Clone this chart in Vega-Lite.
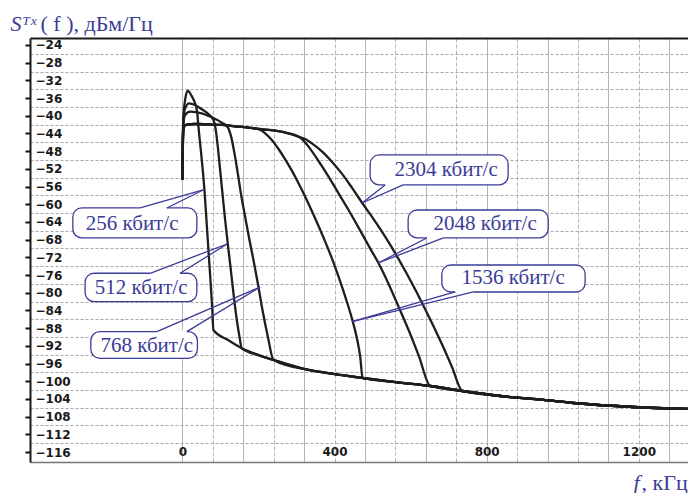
{
  "$schema": "https://vega.github.io/schema/vega-lite/v6.json",
  "width": 658,
  "height": 424,
  "autosize": {"type": "none"},
  "padding": {"left": 30, "top": 38, "right": 0, "bottom": 31},
  "background": "white",
  "config": {"view": {"stroke": null}},
  "datasets": {
    "curves": [
      {"s":"256","f":0,"p":-54.51},{"s":"256","f":0.9,"p":-46.98},{"s":"256","f":2.6,"p":-40.2},{"s":"256","f":7,"p":-36.43},{"s":"256","f":14,"p":-34.32},{"s":"256","f":22.8,"p":-35.3},{"s":"256","f":31.6,"p":-36.81},{"s":"256","f":38.6,"p":-39.07},{"s":"256","f":42.1,"p":-42.46},{"s":"256","f":47.4,"p":-46.98},{"s":"256","f":52.6,"p":-51.5},{"s":"256","f":57.9,"p":-56.77},{"s":"256","f":63.2,"p":-63.56},{"s":"256","f":68.4,"p":-70.34},{"s":"256","f":73.7,"p":-77.12},{"s":"256","f":78.1,"p":-83.15},{"s":"256","f":81.6,"p":-88.42},
      {"s":"256","f":120,"p":-90.7},{"s":"256","f":156.1,"p":-92.56},{"s":"256","f":200,"p":-94.1},{"s":"256","f":239.5,"p":-95.2},{"s":"256","f":331.6,"p":-97.46},{"s":"256","f":400,"p":-98.4},{"s":"256","f":473.7,"p":-99.27},{"s":"256","f":570,"p":-100.3},{"s":"256","f":651.8,"p":-101.08},{"s":"256","f":736,"p":-102.21},{"s":"256","f":836,"p":-103.34},{"s":"256","f":949,"p":-104.24},{"s":"256","f":1028,"p":-104.92},{"s":"256","f":1186,"p":-105.83},{"s":"256","f":1329,"p":-106.27},

      {"s":"512","f":0,"p":-54.51},{"s":"512","f":0.9,"p":-46.98},{"s":"512","f":2.6,"p":-40.95},{"s":"512","f":7,"p":-38.31},{"s":"512","f":17.5,"p":-37.18},{"s":"512","f":33.3,"p":-37.56},{"s":"512","f":50.9,"p":-38.54},{"s":"512","f":68.4,"p":-39.6},{"s":"512","f":81.6,"p":-40.95},{"s":"512","f":87.7,"p":-43.21},{"s":"512","f":93,"p":-46.98},{"s":"512","f":98.2,"p":-51.5},{"s":"512","f":105.3,"p":-57.53},{"s":"512","f":112.3,"p":-63.56},{"s":"512","f":119.3,"p":-68.98},{"s":"512","f":126.3,"p":-74.1},{"s":"512","f":134.2,"p":-80.13},{"s":"512","f":143,"p":-86.16},{"s":"512","f":150,"p":-89.93},{"s":"512","f":156.1,"p":-92.56},
      {"s":"512","f":200,"p":-94.1},{"s":"512","f":239.5,"p":-95.2},{"s":"512","f":331.6,"p":-97.46},{"s":"512","f":400,"p":-98.4},{"s":"512","f":473.7,"p":-99.27},{"s":"512","f":570,"p":-100.3},{"s":"512","f":651.8,"p":-101.08},{"s":"512","f":736,"p":-102.21},{"s":"512","f":836,"p":-103.34},{"s":"512","f":949,"p":-104.24},{"s":"512","f":1028,"p":-104.92},{"s":"512","f":1186,"p":-105.83},{"s":"512","f":1329,"p":-106.27},

      {"s":"768","f":0,"p":-54.51},{"s":"768","f":0.9,"p":-46.98},{"s":"768","f":2.6,"p":-41.71},{"s":"768","f":7,"p":-39.82},{"s":"768","f":20.2,"p":-39.07},{"s":"768","f":50.9,"p":-39.44},{"s":"768","f":77.2,"p":-40.35},{"s":"768","f":103.5,"p":-41.55},{"s":"768","f":119.3,"p":-42.61},{"s":"768","f":128.1,"p":-44.72},{"s":"768","f":136.8,"p":-48.49},{"s":"768","f":145.6,"p":-53.01},{"s":"768","f":154.4,"p":-57.9},{"s":"768","f":164.9,"p":-62.8},{"s":"768","f":175.4,"p":-67.7},{"s":"768","f":186.8,"p":-72.6},{"s":"768","f":198.2,"p":-77.87},{"s":"768","f":210.5,"p":-83.9},{"s":"768","f":224.6,"p":-89.93},{"s":"768","f":239.5,"p":-95.2},
      {"s":"768","f":331.6,"p":-97.46},{"s":"768","f":400,"p":-98.4},{"s":"768","f":473.7,"p":-99.27},{"s":"768","f":570,"p":-100.3},{"s":"768","f":651.8,"p":-101.08},{"s":"768","f":736,"p":-102.21},{"s":"768","f":836,"p":-103.34},{"s":"768","f":949,"p":-104.24},{"s":"768","f":1028,"p":-104.92},{"s":"768","f":1186,"p":-105.83},{"s":"768","f":1329,"p":-106.27},

      {"s":"1536","f":0,"p":-54.51},{"s":"1536","f":0.9,"p":-48.49},{"s":"1536","f":1.8,"p":-43.97},{"s":"1536","f":4.4,"p":-42.46},{"s":"1536","f":11.4,"p":-42.01},{"s":"1536","f":33.3,"p":-41.86},{"s":"1536","f":68.4,"p":-41.93},{"s":"1536","f":103.5,"p":-42.08},{"s":"1536","f":138.6,"p":-42.38},{"s":"1536","f":173.7,"p":-42.69},{"s":"1536","f":200,"p":-42.99},
      {"s":"1536","f":217.5,"p":-43.97},{"s":"1536","f":235.1,"p":-45.47},{"s":"1536","f":252.6,"p":-47.51},{"s":"1536","f":270.2,"p":-49.84},{"s":"1536","f":287.7,"p":-52.4},{"s":"1536","f":305.3,"p":-55.27},{"s":"1536","f":322.8,"p":-58.28},{"s":"1536","f":340.3,"p":-61.52},{"s":"1536","f":357.9,"p":-64.91},{"s":"1536","f":375.4,"p":-68.45},{"s":"1536","f":393,"p":-72.22},{"s":"1536","f":410.5,"p":-76.36},{"s":"1536","f":428.1,"p":-80.88},{"s":"1536","f":445.6,"p":-85.78},{"s":"1536","f":458.8,"p":-90.3},{"s":"1536","f":467.5,"p":-94.45},{"s":"1536","f":473.7,"p":-99.27},
      {"s":"1536","f":570,"p":-100.3},{"s":"1536","f":651.8,"p":-101.08},{"s":"1536","f":736,"p":-102.21},{"s":"1536","f":836,"p":-103.34},{"s":"1536","f":949,"p":-104.24},{"s":"1536","f":1028,"p":-104.92},{"s":"1536","f":1186,"p":-105.83},{"s":"1536","f":1329,"p":-106.27},

      {"s":"2048","f":0,"p":-54.51},{"s":"2048","f":0.9,"p":-48.49},{"s":"2048","f":1.8,"p":-43.97},{"s":"2048","f":4.4,"p":-42.46},{"s":"2048","f":11.4,"p":-42.01},{"s":"2048","f":33.3,"p":-41.86},{"s":"2048","f":68.4,"p":-41.93},{"s":"2048","f":103.5,"p":-42.08},{"s":"2048","f":138.6,"p":-42.38},{"s":"2048","f":173.7,"p":-42.69},{"s":"2048","f":200,"p":-42.99},{"s":"2048","f":243.9,"p":-43.36},{"s":"2048","f":278.9,"p":-43.97},{"s":"2048","f":305.3,"p":-44.72},
      {"s":"2048","f":318.4,"p":-45.62},{"s":"2048","f":331.6,"p":-46.98},{"s":"2048","f":357.9,"p":-50.22},{"s":"2048","f":384.2,"p":-53.76},{"s":"2048","f":410.5,"p":-57.53},{"s":"2048","f":436.8,"p":-61.3},{"s":"2048","f":463.2,"p":-65.29},{"s":"2048","f":489.5,"p":-69.36},{"s":"2048","f":515.8,"p":-73.35},{"s":"2048","f":542.1,"p":-78.02},{"s":"2048","f":568.4,"p":-83.15},{"s":"2048","f":594.7,"p":-88.42},{"s":"2048","f":621.1,"p":-94.15},{"s":"2048","f":651.8,"p":-101.08},
      {"s":"2048","f":736,"p":-102.21},{"s":"2048","f":836,"p":-103.34},{"s":"2048","f":949,"p":-104.24},{"s":"2048","f":1028,"p":-104.92},{"s":"2048","f":1186,"p":-105.83},{"s":"2048","f":1329,"p":-106.27},

      {"s":"2304","f":0,"p":-54.51},{"s":"2304","f":0.9,"p":-48.49},{"s":"2304","f":1.8,"p":-43.97},{"s":"2304","f":4.4,"p":-42.46},{"s":"2304","f":11.4,"p":-42.01},{"s":"2304","f":33.3,"p":-41.86},{"s":"2304","f":68.4,"p":-41.93},{"s":"2304","f":103.5,"p":-42.08},{"s":"2304","f":138.6,"p":-42.38},{"s":"2304","f":173.7,"p":-42.69},{"s":"2304","f":200,"p":-42.99},{"s":"2304","f":243.9,"p":-43.36},{"s":"2304","f":278.9,"p":-43.97},{"s":"2304","f":305.3,"p":-44.72},
      {"s":"2304","f":322.8,"p":-45.25},{"s":"2304","f":340.3,"p":-46.23},{"s":"2304","f":366.7,"p":-48.03},{"s":"2304","f":393,"p":-50.37},{"s":"2304","f":419.3,"p":-53.08},{"s":"2304","f":445.6,"p":-56.25},{"s":"2304","f":472.8,"p":-59.71},{"s":"2304","f":498.2,"p":-62.8},{"s":"2304","f":524.6,"p":-66.19},{"s":"2304","f":550.9,"p":-69.81},{"s":"2304","f":577.2,"p":-73.73},{"s":"2304","f":603.5,"p":-77.87},{"s":"2304","f":629.8,"p":-82.24},{"s":"2304","f":656.1,"p":-86.84},{"s":"2304","f":682.5,"p":-91.66},{"s":"2304","f":708.8,"p":-96.78},{"s":"2304","f":736,"p":-102.21},
      {"s":"2304","f":836,"p":-103.34},{"s":"2304","f":949,"p":-104.24},{"s":"2304","f":1028,"p":-104.92},{"s":"2304","f":1186,"p":-105.83},{"s":"2304","f":1329,"p":-106.27}
    ],
    "co": [
      {"t":"256 кбит/с","x1":-288.2,"x2":37.9,"y1":-60.84,"y2":-67.62,"tx":-132.3,"ty":-64.46,"b1":-111.2,"b2":-41.0,"by":-60.84,"px":54.4,"py":-56.77},
      {"t":"512 кбит/с","x1":-255.9,"x2":37.9,"y1":-75.6,"y2":-82.02,"tx":-108.6,"ty":-78.99,"b1":-84.9,"b2":-6.0,"by":-75.6,"px":117.5,"py":-68.98},
      {"t":"768 кбит/с","x1":-240.9,"x2":39.4,"y1":-88.8,"y2":-94.82,"tx":-93.6,"ty":-92.04,"b1":-67.3,"b2":11.6,"by":-88.8,"px":204.3,"py":-78.7},
      {"t":"2304 кбит/с","x1":493.6,"x2":856.4,"y1":-48.86,"y2":-55.64,"tx":693.4,"ty":-52.25,"b1":533.0,"b2":580.3,"by":-55.64,"px":472.5,"py":-59.71},
      {"t":"2048 кбит/с","x1":593.5,"x2":961.6,"y1":-61.3,"y2":-67.62,"tx":796,"ty":-64.46,"b1":642.6,"b2":686.3,"by":-67.62,"px":514.6,"py":-73.27},
      {"t":"1536 кбит/с","x1":682.1,"x2":1058.9,"y1":-73.73,"y2":-79.83,"tx":869.6,"ty":-76.78,"b1":717.1,"b2":765.2,"by":-79.83,"px":446.2,"py":-86.54}
    ]
  },
  "resolve": {"scale": {"x": "shared", "y": "shared"}, "axis": {"x": "independent", "y": "independent"}},
  "layer": [
    {
      "data": {"name": "curves"},
      "mark": {"type": "line", "color": "#1e1e1e", "strokeWidth": 2.3, "clip": true, "interpolate": "monotone"},
      "encoding": {
        "x": {
          "field": "f", "type": "quantitative",
          "scale": {"domain": [-400.8, 1329.4], "nice": false, "zero": false},
          "axis": {
            "orient": "bottom",
            "values": [0,80,160,240,320,400,480,560,640,720,800,880,960,1040,1120,1200,1280],
            "format": "d",
            "labelExpr": "datum.value % 400 == 0 ? datum.label : ''",
            "labelOverlap": false, "labelFlush": false,
            "labelPadding": -16, "ticks": false, "tickSize": 0,
            "labelFont": "DejaVu Sans", "labelFontSize": 12, "labelFontWeight": "bold", "labelColor": "#1a1a1a",
            "grid": true, "gridColor": "#b4b4b4", "gridWidth": 1,
            "gridDash": {"condition": {"test": "datum.value % 160 == 0", "value": []}, "value": [4, 2]},
            "domain": true, "domainColor": "#777777", "domainWidth": 1.5,
            "title": "f",
            "titleFont": "Liberation Serif", "titleFontStyle": "italic", "titleFontWeight": "normal",
            "titleFontSize": 22, "titleColor": "#3b3b98",
            "titleX": 603, "titleY": 27, "titleAlign": "left", "titleBaseline": "alphabetic", "titleAngle": 0
          }
        },
        "y": {
          "field": "p", "type": "quantitative",
          "scale": {"domain": [-118.26, -22.42], "nice": false, "zero": false},
          "axis": {
            "orient": "left",
            "values": [-116,-114,-112,-110,-108,-106,-104,-102,-100,-98,-96,-94,-92,-90,-88,-86,-84,-82,-80,-78,-76,-74,-72,-70,-68,-66,-64,-62,-60,-58,-56,-54,-52,-50,-48,-46,-44,-42,-40,-38,-36,-34,-32,-30,-28,-26,-24],
            "format": "d",
            "labelExpr": "datum.value % 4 == 0 ? datum.label : ''",
            "labelAlign": "left", "labelBaseline": "middle", "labelPadding": -10,
            "labelOverlap": false, "labelFlush": false,
            "labelFont": "DejaVu Sans", "labelFontSize": 12, "labelFontWeight": "bold", "labelColor": "#1a1a1a",
            "tickSize": 5, "tickColor": "#111111", "tickWidth": 2,
            "tickOpacity": {"condition": {"test": "datum.value % 4 == 0", "value": 1}, "value": 0},
            "grid": true, "gridColor": "#a8a8a8", "gridWidth": 1,
            "gridDash": [3, 2],
            "gridOpacity": {"condition": {"test": "datum.value % 4 == 0", "value": 0}, "value": 1},
            "domain": true, "domainColor": "#1a1a1a", "domainWidth": 2,
            "title": "Sᵀˣ",
            "titleFont": "Liberation Serif", "titleFontStyle": "italic", "titleFontWeight": "normal",
            "titleFontSize": 22, "titleColor": "#3b3b98",
            "titleX": -20, "titleY": -8, "titleAlign": "left", "titleBaseline": "alphabetic", "titleAngle": 0
          }
        },
        "detail": {"field": "s", "type": "nominal"}
      }
    },
    {
      "data": {"name": "co"},
      "mark": {"type": "rect", "fill": "white", "stroke": "#3b3b98", "strokeWidth": 1.3, "cornerRadius": 9},
      "encoding": {
        "x": {
          "field": "x1", "type": "quantitative",
          "axis": {
            "orient": "top", "labels": false, "ticks": false, "grid": false,
            "domain": true, "domainColor": "#1a1a1a", "domainWidth": 2,
            "title": ", кГц",
            "titleFont": "Liberation Serif", "titleFontWeight": "normal", "titleFontSize": 22, "titleColor": "#3b3b98",
            "titleX": 611, "titleY": 451, "titleAlign": "left", "titleBaseline": "alphabetic", "titleAngle": 0
          }
        },
        "x2": {"field": "x2"},
        "y": {
          "field": "y1", "type": "quantitative",
          "axis": {
            "orient": "right", "labels": false, "ticks": false, "grid": false, "domain": false,
            "title": "( f ), дБм/Гц",
            "titleFont": "Liberation Serif", "titleFontWeight": "normal", "titleFontSize": 22, "titleColor": "#3b3b98",
            "titleX": -648, "titleY": -8, "titleAlign": "left", "titleBaseline": "alphabetic", "titleAngle": 0
          }
        },
        "y2": {"field": "y2"}
      }
    },
    {
      "data": {"name": "co"},
      "mark": {"type": "rule", "color": "white", "strokeWidth": 3},
      "encoding": {
        "x": {"field": "b1", "type": "quantitative", "axis": null},
        "x2": {"field": "b2"},
        "y": {"field": "by", "type": "quantitative", "axis": null}
      }
    },
    {
      "data": {"name": "co"},
      "mark": {"type": "rule", "color": "#3b3b98", "strokeWidth": 1.3},
      "encoding": {
        "x": {"field": "b1", "type": "quantitative", "axis": null},
        "x2": {"field": "px"},
        "y": {"field": "by", "type": "quantitative", "axis": null},
        "y2": {"field": "py"}
      }
    },
    {
      "data": {"name": "co"},
      "mark": {"type": "rule", "color": "#3b3b98", "strokeWidth": 1.3},
      "encoding": {
        "x": {"field": "b2", "type": "quantitative", "axis": null},
        "x2": {"field": "px"},
        "y": {"field": "by", "type": "quantitative", "axis": null},
        "y2": {"field": "py"}
      }
    },
    {
      "data": {"name": "co"},
      "mark": {"type": "text", "font": "Liberation Serif", "fontSize": 21, "color": "#3b3b98", "align": "center", "baseline": "middle"},
      "encoding": {
        "x": {"field": "tx", "type": "quantitative", "axis": null},
        "y": {"field": "ty", "type": "quantitative", "axis": null},
        "text": {"field": "t", "type": "nominal"}
      }
    }
  ]
}
